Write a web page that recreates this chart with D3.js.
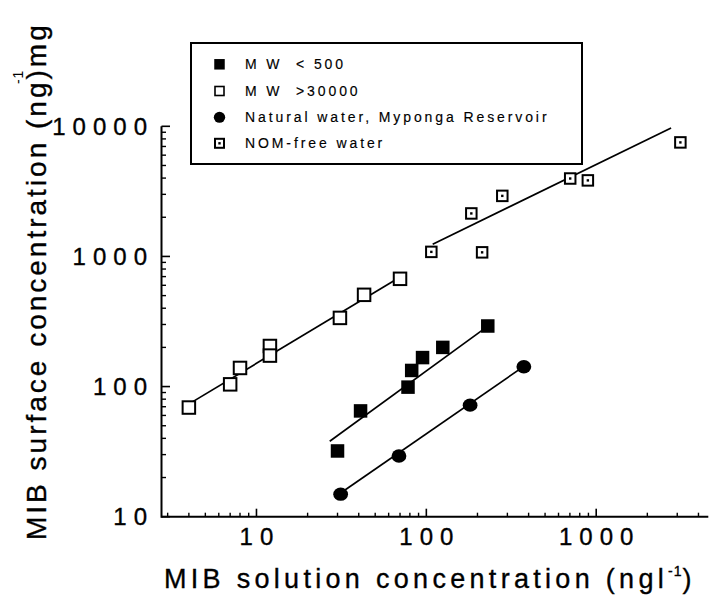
<!DOCTYPE html>
<html>
<head>
<meta charset="utf-8">
<script src="https://cdn.jsdelivr.net/npm/d3@7"></script>
<style>
  body { margin: 0; background: #fff; }
  text { font-family: "Liberation Sans", Arial, sans-serif; fill: #000; }
</style>
</head>
<body>
<div id="grafico"></div>
<script>
// datos (x = ng/l, y = ng/mg)
const mwBajoX = [30, 41, 78, 82, 95, 125, 230];
const mwBajoY = [32, 65, 99, 133, 167, 200, 292];
const mwAltoX = [4, 7, 8, 12, 12, 31, 43, 70];
const mwAltoY = [69, 104, 139, 205, 173, 337, 507, 673];
const naturalX = [31.3, 69, 181, 375];
const naturalY = [14.9, 29.3, 72, 142];
const nomX = [107, 213, 184, 280, 703, 893, 3130];
const nomY = [1084, 1075, 2140, 2920, 3970, 3840, 7520];

// rectas de ajuste (extremos)
const rectaBajoX = [27, 226];
const rectaBajoY = [38, 286];
const rectaAltoX = [3.9, 69];
const rectaAltoY = [72, 686];
const rectaNaturalX = [31.3, 375];
const rectaNaturalY = [15.2, 143];
const rectaNomX = [109, 2760];
const rectaNomY = [1240, 9720];

const ticksX = [10, 100, 1000];
const ticksY = [10, 100, 1000, 10000];
const leyenda = ["M W  < 500", "M W  >30000", "Natural water, Myponga Reservoir", "NOM-free water"];

const svg = d3.select("#grafico").append("svg")
  .attr("width", 716).attr("height", 596);

const x = d3.scaleLog().domain([2.76, 4570]).range([161.5, 708.3]);
const y = d3.scaleLog().domain([10, 10000]).range([516.7, 126.3]);

// menores de los ejes
const menoresX = [];
[1, 10, 100, 1000].forEach(d => { for (let k = 2; k <= 9; k++) { const v = d * k; if (v > 2.76 && v < 4570) menoresX.push(v); } });
const menoresY = [];
[10, 100, 1000].forEach(d => { for (let k = 2; k <= 9; k++) menoresY.push(d * k); });

const ejes = svg.append("g").attr("stroke", "#000");
ejes.append("line").attr("x1", 161.5).attr("x2", 708.3).attr("y1", y(10)).attr("y2", y(10)).attr("stroke-width", 2);
ejes.append("line").attr("x1", 161.5).attr("x2", 161.5).attr("y1", y(10) + 1).attr("y2", y(10000)).attr("stroke-width", 2);

ejes.selectAll(".mx").data(menoresX).enter().append("line")
  .attr("x1", d => x(d)).attr("x2", d => x(d)).attr("y1", y(10)).attr("y2", y(10) - 4).attr("stroke-width", 1.4);
ejes.selectAll(".Mx").data(ticksX).enter().append("line")
  .attr("x1", d => x(d)).attr("x2", d => x(d)).attr("y1", y(10)).attr("y2", y(10) - 8).attr("stroke-width", 1.6);
ejes.selectAll(".my").data(menoresY).enter().append("line")
  .attr("x1", 161.5).attr("x2", 166).attr("y1", d => y(d)).attr("y2", d => y(d)).attr("stroke-width", 1.4);
ejes.selectAll(".My").data(ticksY).enter().append("line")
  .attr("x1", 161.5).attr("x2", 170).attr("y1", d => y(d)).attr("y2", d => y(d)).attr("stroke-width", 1.6);

svg.selectAll(".tx").data(ticksX).enter().append("text")
  .attr("x", d => x(d) + 3.5).attr("y", 545)
  .attr("text-anchor", "middle").attr("font-size", 24)
  .style("letter-spacing", "7px").attr("stroke", "#000").attr("stroke-width", 0.35)
  .text(d => d);
svg.selectAll(".ty").data(ticksY).enter().append("text")
  .attr("x", 154).attr("y", d => y(d) + 8.5)
  .attr("text-anchor", "end").attr("font-size", 24)
  .style("letter-spacing", "7px").attr("stroke", "#000").attr("stroke-width", 0.35)
  .text(d => d);

// titulos
const tituloX = svg.append("text").attr("x", 164).attr("y", 588)
  .attr("font-size", 27).style("letter-spacing", "4.3px")
  .attr("stroke", "#000").attr("stroke-width", 0.35);
tituloX.append("tspan").text("MIB solution concentration (ngl");
tituloX.append("tspan").attr("font-size", 14).attr("dy", -12).style("letter-spacing", "1px").text("-1");
tituloX.append("tspan").attr("dy", 12).text(")");

const tituloY = svg.append("g").attr("transform", "translate(46,540) rotate(-90)");
const textoY = tituloY.append("text").attr("x", 0).attr("y", 0)
  .attr("font-size", 28).style("letter-spacing", "3px")
  .attr("stroke", "#000").attr("stroke-width", 0.35)
  .text("MIB surface concentration (ng)mg");
// superindice sobre "g)"
const posG = textoY.node().getStartPositionOfChar(28).x;
tituloY.append("text").attr("x", posG + 14).attr("y", -23)
  .attr("font-size", 14).style("letter-spacing", "1px")
  .text("-1");

// rectas
const linea = d3.line().x(d => x(d[0])).y(d => y(d[1]));
[[rectaBajoX, rectaBajoY], [rectaAltoX, rectaAltoY], [rectaNaturalX, rectaNaturalY], [rectaNomX, rectaNomY]]
  .forEach(r => {
    svg.append("path").attr("d", linea(d3.zip(r[0], r[1])))
      .attr("fill", "none").attr("stroke", "#000").attr("stroke-width", 1.7);
  });

// marcadores
function cuadradoLleno(g, cx, cy, s) {
  g.append("rect").attr("x", cx - s / 2).attr("y", cy - s / 2).attr("width", s).attr("height", s).attr("fill", "#000");
}
function cuadradoVacio(g, cx, cy, s, w) {
  g.append("rect").attr("x", cx - s / 2).attr("y", cy - s / 2).attr("width", s).attr("height", s)
    .attr("fill", "#fff").attr("stroke", "#000").attr("stroke-width", w);
}
function circulo(g, cx, cy, rx, ry) {
  g.append("ellipse").attr("cx", cx).attr("cy", cy).attr("rx", rx).attr("ry", ry).attr("fill", "#000");
}
function cuadradoPunto(g, cx, cy, s) {
  cuadradoVacio(g, cx, cy, s, 2);
  g.append("rect").attr("x", cx - 1.2).attr("y", cy - 1.2).attr("width", 2.4).attr("height", 2.4).attr("fill", "#000");
}

const puntos = svg.append("g");
mwAltoX.forEach((v, i) => cuadradoVacio(puntos, x(v), y(mwAltoY[i]), 12.5, 2));
mwBajoX.forEach((v, i) => cuadradoLleno(puntos, x(v), y(mwBajoY[i]), 13.5));
naturalX.forEach((v, i) => circulo(puntos, x(v), y(naturalY[i]), 7.4, 6.7));
nomX.forEach((v, i) => cuadradoPunto(puntos, x(v), y(nomY[i]), 10.5));

// leyenda
const ley = svg.append("g");
ley.append("rect").attr("x", 191).attr("y", 43).attr("width", 391).attr("height", 121)
  .attr("fill", "#fff").attr("stroke", "#000").attr("stroke-width", 2);
const filas = [64.3, 91, 117.3, 143.3];
cuadradoLleno(ley, 219.5, filas[0], 10.5);
cuadradoVacio(ley, 219.5, filas[1], 9, 1.6);
circulo(ley, 219.5, filas[2], 5.7, 5.5);
cuadradoPunto(ley, 219.5, filas[3], 9);
ley.selectAll(".lt").data(leyenda).enter().append("text")
  .attr("x", 245).attr("y", (d, i) => filas[i] + 5)
  .attr("font-size", 14).style("letter-spacing", "2.9px")
  .attr("stroke", "#000").attr("stroke-width", 0.15)
  .attr("xml:space", "preserve")
  .text(d => d);
</script>
</body>
</html>
